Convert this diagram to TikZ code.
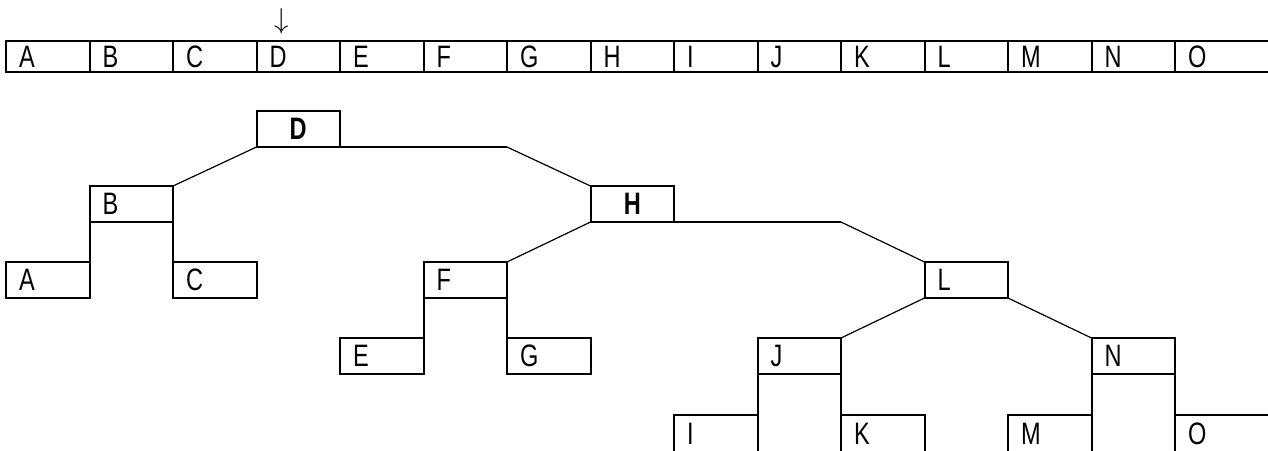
\documentclass[tikz,border=0pt]{standalone}
\usepackage{fontspec}
\setmainfont[FakeStretch=0.76]{Liberation Sans}
\begin{document}
\begin{tikzpicture}[x=0.5pt,y=-0.5pt,
  cell/.style={draw,line width=1pt,outer sep=0pt,anchor=north west,minimum height=15.5pt,
    inner xsep=6.5pt,inner ysep=0pt,text width=28.75pt,align=left,
    font=\fontsize{15.5}{17}\selectfont},
  tbox/.style={draw,line width=1pt,outer sep=0pt,anchor=north west,minimum height=18pt,
    inner xsep=6.5pt,inner ysep=0pt,text width=28.75pt,align=left,
    font=\fontsize{15.5}{17}\selectfont},
  tboxb/.style={tbox,align=center,font=\fontsize{15.5}{17}\selectfont\bfseries},
  conn/.style={line width=1pt},
  diag/.style={line width=0.6pt}]
\useasboundingbox (0,0) rectangle (1268,450);
% array
\node[cell] (a0) at (6,41) {A};
\node[cell] (a1) at (89.5,41) {B};
\node[cell] (a2) at (173,41) {C};
\node[cell] (a3) at (256.5,41) {D};
\node[cell] (a4) at (340,41) {E};
\node[cell] (a5) at (423.5,41) {F};
\node[cell] (a6) at (507,41) {G};
\node[cell] (a7) at (590.5,41) {H};
\node[cell] (a8) at (674,41) {I};
\node[cell] (a9) at (757.5,41) {J};
\node[cell] (a10) at (841,41) {K};
\node[cell] (a11) at (924.5,41) {L};
\node[cell] (a12) at (1008,41) {M};
\node[cell] (a13) at (1091.5,41) {N};
\node[cell,text width=100pt] (a14) at (1175,41) {O};
\node[inner sep=0pt,font=\fontsize{15}{17}\selectfont] (ptr) at (282,21) {$\downarrow$};
% tree
\node[tboxb] (D) at (256.5,111) {D};
\node[tbox] (B) at (89.5,186) {B};
\node[tboxb] (H) at (590.5,186) {H};
\node[tbox] (A) at (6,262) {A};
\node[tbox] (C) at (173,262) {C};
\node[tbox] (F) at (423.5,262) {F};
\node[tbox] (L) at (924.5,262) {L};
\node[tbox] (E) at (340,338) {E};
\node[tbox] (G) at (507,338) {G};
\node[tbox] (J) at (757.5,338) {J};
\node[tbox] (N) at (1091.5,338) {N};
\node[tbox,minimum height=19pt] (I) at (674,415) {I};
\node[tbox,minimum height=19pt] (K) at (841,415) {K};
\node[tbox,minimum height=19pt] (M) at (1008,415) {M};
\node[tbox,minimum height=19pt,text width=100pt] (O) at (1175,415) {O};
% connectors
\coordinate (Dx) at (D.south east -| F.east);
\coordinate (Hx) at (H.south east -| J.east);
\draw[diag] (D.south west) -- (B.north east);
\draw[conn] (D.south east) -- (Dx);
\draw[diag] (Dx) -- (H.north west);
\draw[conn] (B.south west) -- (A.north east);
\draw[conn] (B.south east) -- (C.north west);
\draw[diag] (H.south west) -- (F.north east);
\draw[conn] (H.south east) -- (Hx);
\draw[diag] (Hx) -- (L.north west);
\draw[conn] (F.south west) -- (E.north east);
\draw[conn] (F.south east) -- (G.north west);
\draw[diag] (L.south west) -- (J.north east);
\draw[diag] (L.south east) -- (N.north west);
\draw[conn] (J.south west) -- (I.north east);
\draw[conn] (J.south east) -- (K.north west);
\draw[conn] (N.south west) -- (M.north east);
\draw[conn] (N.south east) -- (O.north west);
\end{tikzpicture}
\end{document}
